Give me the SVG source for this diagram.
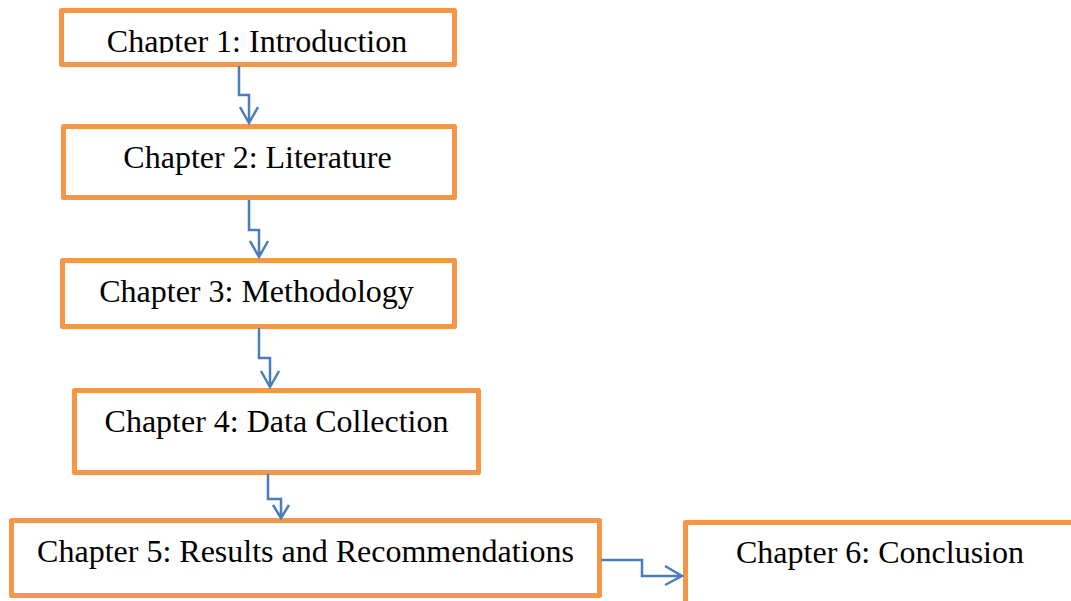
<svg xmlns="http://www.w3.org/2000/svg" width="1071" height="601" viewBox="0 0 1071 601">
<style>
.box{fill:#fff;stroke:#F79646;stroke-width:5;stroke-linejoin:round}
.lbl{font-family:"Liberation Serif","Times New Roman",serif;font-size:32px;fill:#000;text-anchor:middle}
.con{fill:none;stroke:#4A7EBB;stroke-width:2.5}
</style>
<defs>
<clipPath id="c1"><rect x="60" y="10" width="396" height="43"/></clipPath>
</defs>
<rect width="1071" height="601" fill="#fff"/>
<g id="n1"><rect class="box" x="61.5" y="10.5" width="393" height="54"/><text class="lbl" x="257" y="52" clip-path="url(#c1)">Chapter 1: Introduction</text></g>
<g id="n2"><rect class="box" x="63.5" y="126.5" width="391" height="71"/><text class="lbl" x="257.5" y="168">Chapter 2: Literature</text></g>
<g id="n3"><rect class="box" x="62.5" y="260.5" width="392" height="66"/><text class="lbl" x="256.5" y="302">Chapter 3: Methodology</text></g>
<g id="n4"><rect class="box" x="74.5" y="390.5" width="404" height="82"/><text class="lbl" x="276.5" y="432">Chapter 4: Data Collection</text></g>
<g id="n5"><rect class="box" x="11.5" y="520.5" width="588" height="75"/><text class="lbl" x="305.5" y="562">Chapter 5: Results and Recommendations</text></g>
<g id="n6"><rect class="box" x="685.5" y="522.5" width="395" height="90"/><text class="lbl" x="880" y="563">Chapter 6: Conclusion</text></g>
<g id="connectors">
<path class="con" d="M239 66V95H249V123M240 107L249 123L258 107"/>
<path class="con" d="M249 200V230H259V257M250 241L259 257L268 241"/>
<path class="con" d="M259 328V358H270V387M261 371L270 387L279 371"/>
<path class="con" d="M268 474V499H281V518M273 505L281 518L289 505"/>
<path class="con" d="M601 560H642V576H682M665 566L682 576L665 585"/>
</g>
</svg>
